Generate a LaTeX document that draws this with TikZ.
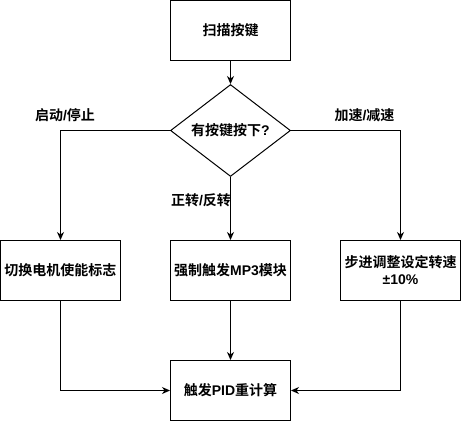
\documentclass[tikz,border=0pt]{standalone}
\usepackage{fontspec}
\setmainfont{Noto Sans CJK SC}[BoldFont={Noto Sans CJK SC Bold}]
\newfontfamily\lat{Liberation Sans}
\usepackage{tikz}
\usetikzlibrary{arrows.meta, shapes.geometric}
\tikzset{every picture/.style={x=1pt,y=-1pt,line width=1pt,>={Stealth[length=8pt,width=7pt,inset=2.5pt]},
  every node/.style={font=\bfseries\fontsize{14}{17}\selectfont,inner sep=0pt}},
  box/.style={draw,minimum width=120pt,minimum height=60pt,align=center},
  decision/.style={draw,diamond,minimum width=120pt,minimum height=80pt},
  tag/.style={}}

\begin{document}
\begin{tikzpicture}

          \useasboundingbox (0,0) rectangle (461,421);

          \node[box] (b1) at (230.5, 30.5){扫描按键};
          \node[decision] (d1) at (230.5, 130.5){有按键按下{\lat ?}};
          \node[box] (b2) at (60.5, 270.5){切换电机使能标志};
          \node[box] (b3) at (230.5, 270.5){强制触发{\lat MP3}模块};
          \node[box] (b4) at (400.5, 270.5){步进调整设定转速\\{\lat ±10\%}};
          \node[box] (b5) at (230.5, 390.5){触发{\lat PID}重计算};

          \node[tag] (t1) at (65, 115){启动{\lat /}停止};
          \node[tag] (t2) at (201, 200){正转{\lat /}反转};
          \node[tag] (t3) at (364.5, 115){加速{\lat /}减速};

          \draw[->](b1)--(d1);
          \draw[->](d1.west)-|(b2);
          \draw[->](d1)--(b3);
          \draw[->](d1.east)-|(b4);
          \draw[->](b2)|-(b5);
          \draw[->](b3)--(b5);
          \draw[->](b4)|-(b5);

        \end{tikzpicture}
\end{document}
